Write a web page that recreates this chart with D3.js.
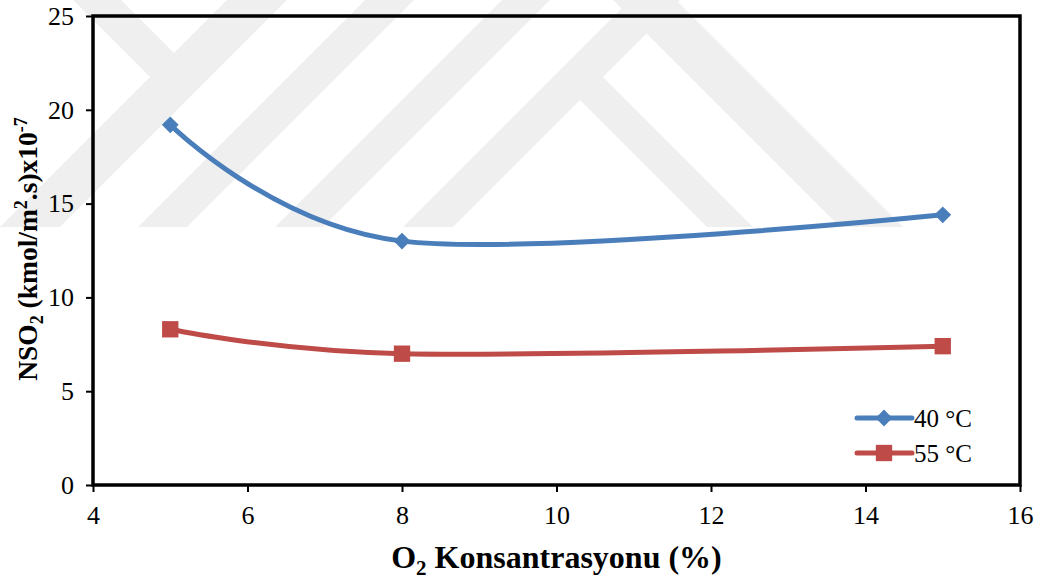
<!DOCTYPE html>
<html>
<head>
<meta charset="utf-8">
<script src="https://cdn.jsdelivr.net/npm/d3@7"></script>
<style>
  html, body { margin: 0; padding: 0; background: #fff; }
  svg { display: block; font-family: "Liberation Serif", "Times New Roman", serif; }
</style>
</head>
<body>
<svg id="chart" width="1042" height="580"></svg>
<script>
// O2 concentration (%) on the x axis
const o2Levels = [5, 8, 15];
// SO2 flux, (kmol/m2.s) x 10^-7
const flux40 = [19.2, 13.0, 14.4];
const flux55 = [8.3, 7.0, 7.4];
const seriesNames = ["40 °C", "55 °C"];
const xTicks = [4, 6, 8, 10, 12, 14, 16];
const yTicks = [0, 5, 10, 15, 20, 25];

const svg = d3.select("#chart");
const W = 1042, H = 580;
const m = { left: 93, right: 1020, top: 16, bottom: 485 };

const x = d3.scaleLinear().domain([4, 16]).range([m.left, m.right]);
const y = d3.scaleLinear().domain([0, 25]).range([m.bottom, m.top]);

svg.append("rect").attr("width", W).attr("height", H).attr("fill", "#fff");

// light background emblem: diagonal bands
const emblem = svg.append("g").attr("fill", "#efefef");
const bandBottom = 227;
[[0, 60], [138, 49], [275, 48], [403, 50]].forEach(([x0, w]) => {
  emblem.append("polygon").attr("points", [
    [x0, bandBottom], [x0 + w, bandBottom],
    [x0 + w + bandBottom, 0], [x0 + bandBottom, 0]
  ].map(p => p.join(",")).join(" "));
});
emblem.append("polygon").attr("points", "73,0 121,0 189,68 165,92");
emblem.append("polygon").attr("points", "613,0 676,0 903,227 840,227");
emblem.append("polygon").attr("points", "590.5,64.5 753,227 707,227 567.5,87.5");

// axes
const tickFont = 26;
const xMinor = d3.range(4, 16.001, 0.4);
const yMinor = d3.range(0, 25.001, 1);

const gx = svg.append("g").attr("transform", `translate(0,${m.bottom})`);
gx.call(d3.axisBottom(x).tickValues(xMinor).tickSize(7).tickFormat(""));
gx.call(d3.axisBottom(x).tickValues(xTicks).tickSize(7).tickPadding(14).tickFormat(d3.format("d")));
gx.select(".domain").remove();
gx.selectAll("line").attr("stroke", "#000").attr("stroke-width", 2);
gx.selectAll("text").attr("font-size", tickFont).attr("font-family", "Liberation Serif, Times New Roman, serif").attr("fill", "#000");

const gy = svg.append("g").attr("transform", `translate(${m.left},0)`);
gy.call(d3.axisLeft(y).tickValues(yMinor).tickSize(7).tickFormat(""));
gy.call(d3.axisLeft(y).tickValues(yTicks).tickSize(7).tickPadding(12).tickFormat(d3.format("d")));
gy.select(".domain").remove();
gy.selectAll("line").attr("stroke", "#000").attr("stroke-width", 2);
gy.selectAll("text").attr("font-size", tickFont).attr("font-family", "Liberation Serif, Times New Roman, serif").attr("fill", "#000");

// plot frame
svg.append("rect")
  .attr("x", m.left).attr("y", m.top)
  .attr("width", m.right - m.left).attr("height", m.bottom - m.top)
  .attr("fill", "none").attr("stroke", "#000").attr("stroke-width", 3.5);

// series
const series = [
  { name: seriesNames[0], values: flux40, color: "#4a7ebb", shape: d3.symbolDiamond2, size: 180 },
  { name: seriesNames[1], values: flux55, color: "#be4b48", shape: d3.symbolSquare2, size: 340 }
];

const line = d3.line()
  .x((d, i) => x(o2Levels[i]))
  .y(d => y(d))
  .curve(d3.curveCardinal.tension(0));

series.forEach(s => {
  svg.append("path")
    .attr("d", line(s.values))
    .attr("fill", "none")
    .attr("stroke", s.color)
    .attr("stroke-width", 5)
    .attr("stroke-linecap", "round");
  svg.selectAll(null).data(s.values).enter().append("path")
    .attr("d", d3.symbol().type(s.shape).size(s.size))
    .attr("transform", (d, i) => `translate(${x(o2Levels[i])},${y(d)})`)
    .attr("fill", s.color);
});

// legend
const legend = svg.append("g");
series.forEach((s, i) => {
  const ly = 418 + i * 35;
  legend.append("line").attr("x1", 857).attr("x2", 912).attr("y1", ly).attr("y2", ly)
    .attr("stroke", s.color).attr("stroke-width", 5).attr("stroke-linecap", "round");
  legend.append("path")
    .attr("d", d3.symbol().type(s.shape).size(s.size))
    .attr("transform", `translate(884,${ly})`).attr("fill", s.color);
  legend.append("text").attr("x", 914).attr("y", ly + 9)
    .attr("font-size", 25).attr("fill", "#000").text(s.name);
});

// axis titles
const xt = svg.append("text")
  .attr("x", (m.left + m.right) / 2).attr("y", 568)
  .attr("text-anchor", "middle").attr("font-size", 32).attr("font-weight", "bold");
xt.append("tspan").text("O");
xt.append("tspan").attr("font-size", 21).attr("dy", 7).text("2");
xt.append("tspan").attr("dy", -7).text(" Konsantrasyonu (%)");

const yt = svg.append("text")
  .attr("transform", "translate(37,249) rotate(-90)")
  .attr("text-anchor", "middle").attr("font-size", 27.5).attr("font-weight", "bold");
yt.append("tspan").text("NSO");
yt.append("tspan").attr("font-size", 18).attr("dy", 6).text("2");
yt.append("tspan").attr("dy", -6).text(" (kmol/m");
yt.append("tspan").attr("font-size", 18).attr("dy", -10).text("2");
yt.append("tspan").attr("dy", 10).text(".s)x10");
yt.append("tspan").attr("font-size", 18).attr("dy", -10).text("-7");
</script>
</body>
</html>
